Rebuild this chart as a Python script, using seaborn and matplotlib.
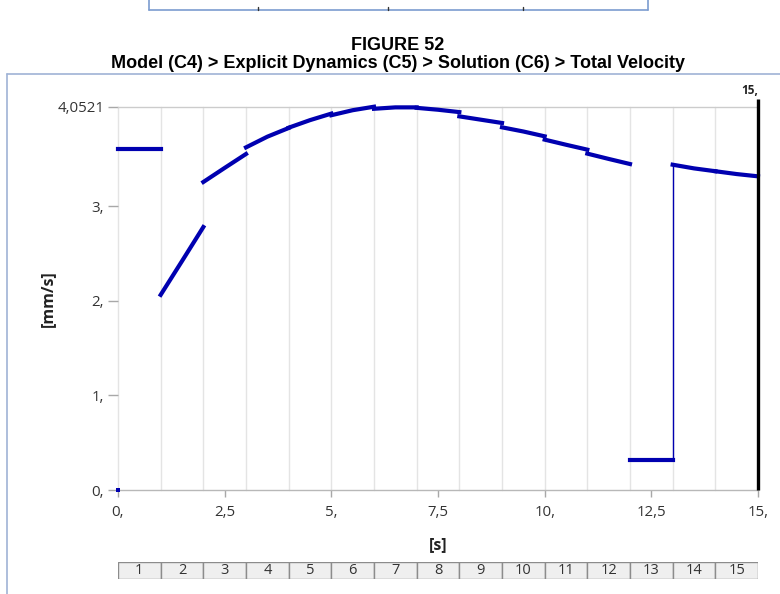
import numpy as np
import pandas as pd
import matplotlib
matplotlib.use("Agg")
import matplotlib.pyplot as plt
from matplotlib.lines import Line2D
from matplotlib import font_manager
import seaborn as sns

# Solution step boundaries [s]
step_numbers = list(range(1, 16))
step_start = [0, 1, 2, 3, 4, 5, 6, 7, 8, 9, 10, 11, 12, 13, 14]
step_mid = [0.5, 1.5, 2.5, 3.5, 4.5, 5.5, 6.5, 7.5, 8.5, 9.5, 10.5, 11.5, 12.5, 13.5, 14.5]
step_end = [1, 2, 3, 4, 5, 6, 7, 8, 9, 10, 11, 12, 13, 14, 15]

# Total velocity [mm/s] at start, middle and end of each step
vel_start = [3.605, 2.063, 3.256, 3.622, 3.830, 3.962, 4.030, 4.040, 3.950, 3.834, 3.704, 3.556, 0.320, 3.439, 3.370]
vel_mid = [3.605, 2.420, 3.405, 3.735, 3.910, 4.015, 4.045, 4.020, 3.915, 3.790, 3.650, 3.500, 0.320, 3.400, 3.340]
vel_end = [3.605, 2.780, 3.552, 3.827, 3.979, 4.052, 4.045, 3.995, 3.880, 3.739, 3.598, 3.446, 0.320, 3.370, 3.316]

# Initial state
t0 = [0.0]
v0 = [0.0]

y_max = 4.0521
t_end = 15.0
x_ticks = [0, 2.5, 5, 7.5, 10, 12.5, 15]
x_tick_labels = ["0,", "2,5", "5,", "7,5", "10,", "12,5", "15,"]
y_ticks = [0, 1, 2, 3, y_max]
y_tick_labels = ["0,", "1,", "2,", "3,", "4,0521"]

sns.set_theme(style="white")
available = {f.name for f in font_manager.fontManager.ttflist}
ui_font = "Open Sans" if "Open Sans" in available else "DejaVu Sans"
title_font = ["Liberation Sans Narrow", "Liberation Sans"] if "Liberation Sans Narrow" in available else ["Liberation Sans"]
plt.rcParams["font.family"] = [ui_font, "DejaVu Sans"]

LINE = "#0000b0"
W, H = 780, 594
fig = plt.figure(figsize=(W / 100, H / 100), dpi=100)

def px_rect(x0, y0, x1, y1):
    return [x0 / W, 1 - y1 / H, (x1 - x0) / W, (y1 - y0) / H]

ax = fig.add_axes(px_rect(118, 106.7, 758, 490))

# One row per sample, grouped by step so each step is its own segment
rows = []
for i in range(len(step_start)):
    for t, v in ((step_start[i], vel_start[i]), (step_mid[i], vel_mid[i]), (step_end[i], vel_end[i])):
        rows.append({"time": t, "velocity": v, "step": step_numbers[i]})
df = pd.DataFrame(rows)

for t in range(0, 16):
    ax.axvline(t, color="#e4e4e4", lw=1.0, zorder=0)

sns.lineplot(data=df, x="time", y="velocity", units="step", estimator=None,
             color=LINE, linewidth=3.0, ax=ax, solid_capstyle="projecting", zorder=4)

# Jump at the start of step 14
ax.plot([step_start[13], step_start[13]], [vel_end[12], vel_start[13]], color=LINE, lw=1.0, zorder=4)

# Initial point
sns.scatterplot(x=t0, y=v0, color=LINE, marker="s", s=8, linewidth=0, ax=ax, zorder=5)

# Current time marker
ax.plot([t_end, t_end], [0, y_max + 0.08], color="black", lw=2.4, zorder=6, solid_capstyle="butt")
ax.text(t_end + 0.0, y_max + 0.17, "15,", ha="right", va="center", fontsize=8.5, fontweight="bold", color="#222222")

for artist in list(ax.lines) + list(ax.collections):
    artist.set_clip_on(False)

ax.set_xlim(0, t_end)
ax.set_ylim(0, y_max)

for side in ("left", "right"):
    ax.spines[side].set_visible(False)
ax.spines["top"].set_color("#cccccc")
ax.spines["bottom"].set_color("#b8b8b8")
ax.spines["top"].set_linewidth(1.0)
ax.spines["bottom"].set_linewidth(1.0)
ax.spines["top"].set_zorder(1)
ax.spines["bottom"].set_zorder(1)

ax.set_xticks(x_ticks)
ax.set_xticklabels(x_tick_labels)
ax.set_yticks(y_ticks)
ax.set_yticklabels(y_tick_labels)
ax.tick_params(axis="x", which="both", bottom=True, direction="out", length=5, width=1,
               color="#a8a8a8", pad=6, labelsize=10.8, labelcolor="#333333")
ax.tick_params(axis="y", which="both", left=True, direction="out", length=7, width=1,
               color="#a8a8a8", pad=3, labelsize=10.8, labelcolor="#333333")

ax.set_xlabel("[s]", fontsize=11.5, fontweight="bold", color="#222222")
ax.xaxis.set_label_coords(0.5, (490 - 545) / 383.3)
ax.xaxis.label.set_va("center")
ax.set_ylabel("[mm/s]", fontsize=11.5, fontweight="bold", color="#222222")
ax.yaxis.set_label_coords((48 - 118) / 640, 0.5)
ax.yaxis.label.set_va("center")

# Step table under the time axis
tab = fig.add_axes(px_rect(118, 561.7, 758, 579.3))
tab.bar(step_start, [1] * len(step_start), width=1, align="edge",
        color="#efefef", edgecolor="#8c8c8c", linewidth=1.0)
for m, n in zip(step_mid, step_numbers):
    tab.text(m, 0.5, str(n), ha="center", va="center", fontsize=10.5, color="#333333")
tab.set_xlim(0, t_end)
tab.set_ylim(0, 1)
tab.axis("off")

# Titles
fig.text(398 / W, 1 - 45 / H, "FIGURE 52", ha="center", va="center",
         fontsize=13, fontweight="bold", family=title_font, color="black")
fig.text(398 / W, 1 - 64 / H, "Model (C4) > Explicit Dynamics (C5) > Solution (C6) > Total Velocity",
         ha="center", va="center", fontsize=13, fontweight="bold", family=title_font, color="black")

# Page frame and table rule above
frame = "#9fb3d6"
fig.add_artist(Line2D([7 / W, 1], [1 - 74 / H, 1 - 74 / H], color=frame, lw=1.2, transform=fig.transFigure))
fig.add_artist(Line2D([7 / W, 7 / W], [1 - 74 / H, 0], color=frame, lw=1.2, transform=fig.transFigure))
rule = "#7c9ccf"
fig.add_artist(Line2D([149 / W, 648 / W], [1 - 10 / H, 1 - 10 / H], color=rule, lw=1.2, transform=fig.transFigure))
for xp in (149, 648):
    fig.add_artist(Line2D([xp / W, xp / W], [1, 1 - 10 / H], color=rule, lw=1.2, transform=fig.transFigure))
for xp in (258, 388, 523):
    fig.add_artist(Line2D([xp / W, xp / W], [1 - 7 / H, 1 - 10 / H], color="#333333", lw=1.0, transform=fig.transFigure))

fig.savefig("out.png", dpi=100)
